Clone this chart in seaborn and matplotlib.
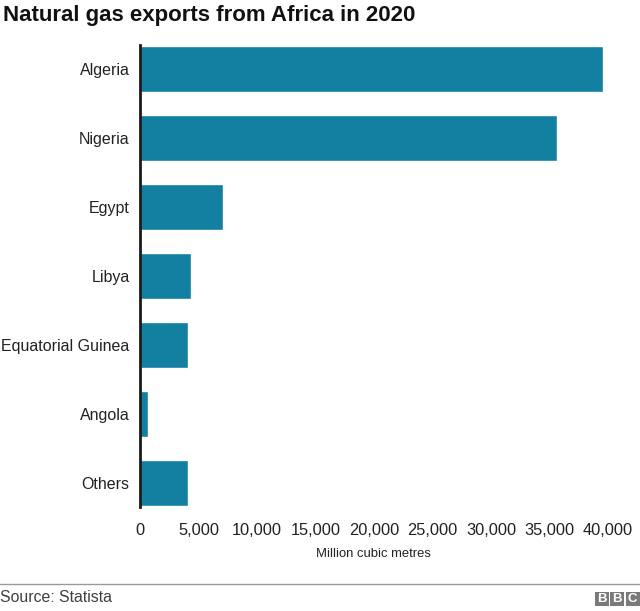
import pandas as pd
import matplotlib
matplotlib.use("Agg")
import matplotlib.pyplot as plt
from matplotlib.patches import Rectangle
import seaborn as sns

countries = ["Algeria", "Nigeria", "Egypt", "Libya", "Equatorial Guinea", "Angola", "Others"]
exports = [39570, 35640, 7100, 4360, 4060, 680, 4060]
xticks = [0, 5000, 10000, 15000, 20000, 25000, 30000, 35000, 40000]

W, H = 640, 611
sns.set_style("white")
plt.rcParams['font.family'] = ['Liberation Sans', 'DejaVu Sans']

df = pd.DataFrame({"country": countries, "exports": exports})

fig = plt.figure(figsize=(W/100, H/100), dpi=100)
ax = fig.add_axes([140/W, 1-507/H, (640-140)/W, (507-45)/H])
sns.barplot(data=df, x="exports", y="country", color="#1380A1", saturation=1, width=0.675, ax=ax)
ax.set_xlim(0, 500/58.5*5000)
ax.set_ylim(6.348, -0.348)
sns.despine(ax=ax, left=False, bottom=True, right=True, top=True)
ax.spines['left'].set_color("#1a1a1a")
ax.spines['left'].set_linewidth(2)
ax.set_xticks(xticks)
ax.set_xticklabels([f"{v:,}" for v in xticks])
ax.tick_params(axis='x', length=0, pad=11.5, labelsize=11.8, labelcolor="#222222")
ax.tick_params(axis='y', length=0, pad=7.5, labelsize=11.5, labelcolor="#222222")
for lab in ax.get_xticklabels():
    lab.set_clip_on(False)
ax.set_ylabel("")
ax.set_xlabel("")

fig.text(373.5/W, 1-554/H, "Million cubic metres", ha="center", va="center", fontsize=9.4, color="#222222")
fig.text(3/W, 1-15/H, "Natural gas exports from Africa in 2020", ha="left", va="center",
         fontsize=16, fontweight="bold", color="#111111")
fig.text(0, 1-597/H, "Source: Statista", ha="left", va="center", fontsize=11.4, color="#404040")

# footer rule
fig.add_artist(plt.Line2D([0, 1], [1-584/H, 1-584/H], color="#999999", lw=1))

# BBC blocks
for i, c in enumerate("BBC"):
    x0 = 595 + i*15.3
    fig.add_artist(Rectangle((x0/W, 1-606/H), 14/W, 14/H, transform=fig.transFigure, color="#7a7a7a", lw=0))
    fig.text((x0+7)/W, 1-599/H, c, ha="center", va="center", fontsize=9.5, fontweight="bold", color="white")

fig.savefig("out.png", dpi=100)
